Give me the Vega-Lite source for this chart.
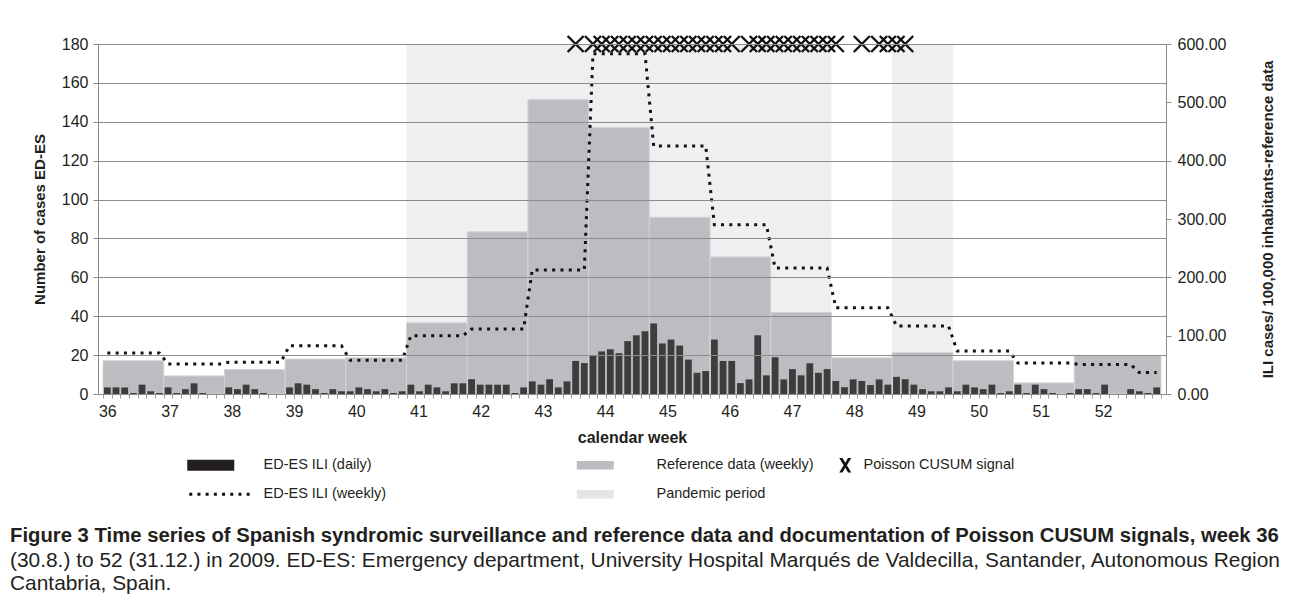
{
  "$schema": "https://vega.github.io/schema/vega-lite/v6.json",
  "width": 1068,
  "height": 350,
  "autosize": {"type": "none"},
  "padding": {"left": 98, "top": 44, "right": 126, "bottom": 210},
  "background": "white",
  "config": {
    "font": "Liberation Sans",
    "view": {"stroke": null},
    "axis": {"labelFont": "Liberation Sans", "titleFont": "Liberation Sans"},
    "legend": {"labelFont": "Liberation Sans"}
  },
  "title": {
    "text": "Figure 3 Time series of Spanish syndromic surveillance and reference data and documentation of Poisson CUSUM signals, week 36",
    "subtitle": ["(30.8.) to 52 (31.12.) in 2009. ED-ES: Emergency department, University Hospital Marqués de Valdecilla, Santander, Autonomous Region", "Cantabria, Spain."],
    "orient": "bottom",
    "anchor": "start",
    "frame": "group",
    "dx": -88,
    "offset": 25,
    "font": "Liberation Sans",
    "fontSize": 20.3,
    "fontWeight": "bold",
    "color": "#231f20",
    "subtitleFont": "Liberation Sans",
    "subtitleFontSize": 20.9,
    "subtitleColor": "#231f20",
    "subtitleLineHeight": 23,
    "subtitlePadding": 4
  },
  "datasets": {
    "daily": [
      {"day":0,"wk":36,"n":3.4},{"day":1,"wk":36,"n":3.4},{"day":2,"wk":36,"n":3.4},{"day":3,"wk":36,"n":0.5},{"day":4,"wk":36,"n":4.8},{"day":5,"wk":36,"n":1.4},{"day":6,"wk":36,"n":0.5},
      {"day":7,"wk":37,"n":3.4},{"day":8,"wk":37,"n":0.5},{"day":9,"wk":37,"n":2.5},{"day":10,"wk":37,"n":5.5},{"day":11,"wk":37,"n":0.5},{"day":12,"wk":37,"n":0},{"day":13,"wk":37,"n":0},
      {"day":14,"wk":38,"n":3.4},{"day":15,"wk":38,"n":2.5},{"day":16,"wk":38,"n":4.8},{"day":17,"wk":38,"n":2.5},{"day":18,"wk":38,"n":0.5},{"day":19,"wk":38,"n":0},{"day":20,"wk":38,"n":0},
      {"day":21,"wk":39,"n":3.4},{"day":22,"wk":39,"n":5.5},{"day":23,"wk":39,"n":4.8},{"day":24,"wk":39,"n":2.5},{"day":25,"wk":39,"n":0.5},{"day":26,"wk":39,"n":2.5},{"day":27,"wk":39,"n":1.4},
      {"day":28,"wk":40,"n":1.4},{"day":29,"wk":40,"n":3.4},{"day":30,"wk":40,"n":2.5},{"day":31,"wk":40,"n":1.4},{"day":32,"wk":40,"n":2.5},{"day":33,"wk":40,"n":0.5},{"day":34,"wk":40,"n":1.4},
      {"day":35,"wk":41,"n":4.8},{"day":36,"wk":41,"n":1.4},{"day":37,"wk":41,"n":4.8},{"day":38,"wk":41,"n":3.4},{"day":39,"wk":41,"n":1.4},{"day":40,"wk":41,"n":5.5},{"day":41,"wk":41,"n":5.5},
      {"day":42,"wk":42,"n":7.6},{"day":43,"wk":42,"n":4.8},{"day":44,"wk":42,"n":4.8},{"day":45,"wk":42,"n":4.8},{"day":46,"wk":42,"n":4.8},{"day":47,"wk":42,"n":0.5},{"day":48,"wk":42,"n":3.4},
      {"day":49,"wk":43,"n":6.5},{"day":50,"wk":43,"n":4.8},{"day":51,"wk":43,"n":7.6},{"day":52,"wk":43,"n":3.4},{"day":53,"wk":43,"n":6.5},{"day":54,"wk":43,"n":17},{"day":55,"wk":43,"n":15.9},
      {"day":56,"wk":44,"n":20},{"day":57,"wk":44,"n":21.9},{"day":58,"wk":44,"n":23},{"day":59,"wk":44,"n":21},{"day":60,"wk":44,"n":27.2},{"day":61,"wk":44,"n":30.2},{"day":62,"wk":44,"n":32.3},
      {"day":63,"wk":45,"n":36.3},{"day":64,"wk":45,"n":26},{"day":65,"wk":45,"n":28},{"day":66,"wk":45,"n":24.9},{"day":67,"wk":45,"n":17.7},{"day":68,"wk":45,"n":10.9},{"day":69,"wk":45,"n":11.8},
      {"day":70,"wk":46,"n":28},{"day":71,"wk":46,"n":17},{"day":72,"wk":46,"n":17},{"day":73,"wk":46,"n":5.6},{"day":74,"wk":46,"n":7.5},{"day":75,"wk":46,"n":30.2},{"day":76,"wk":46,"n":9.6},
      {"day":77,"wk":47,"n":18.9},{"day":78,"wk":47,"n":7.5},{"day":79,"wk":47,"n":12.8},{"day":80,"wk":47,"n":9.6},{"day":81,"wk":47,"n":15.8},{"day":82,"wk":47,"n":10.9},{"day":83,"wk":47,"n":12.8},
      {"day":84,"wk":48,"n":6.7},{"day":85,"wk":48,"n":3.5},{"day":86,"wk":48,"n":7.5},{"day":87,"wk":48,"n":6.7},{"day":88,"wk":48,"n":4.6},{"day":89,"wk":48,"n":7.5},{"day":90,"wk":48,"n":4.8},
      {"day":91,"wk":49,"n":8.8},{"day":92,"wk":49,"n":7.6},{"day":93,"wk":49,"n":4.8},{"day":94,"wk":49,"n":2.5},{"day":95,"wk":49,"n":1.4},{"day":96,"wk":49,"n":1.4},{"day":97,"wk":49,"n":3.4},
      {"day":98,"wk":50,"n":1.4},{"day":99,"wk":50,"n":4.8},{"day":100,"wk":50,"n":3.4},{"day":101,"wk":50,"n":2.5},{"day":102,"wk":50,"n":4.8},{"day":103,"wk":50,"n":0.5},{"day":104,"wk":50,"n":1.4},
      {"day":105,"wk":51,"n":4.8},{"day":106,"wk":51,"n":0.5},{"day":107,"wk":51,"n":4.8},{"day":108,"wk":51,"n":2.5},{"day":109,"wk":51,"n":0.5},{"day":110,"wk":51,"n":0},{"day":111,"wk":51,"n":0.5},
      {"day":112,"wk":52,"n":2.5},{"day":113,"wk":52,"n":2.5},{"day":114,"wk":52,"n":0.5},{"day":115,"wk":52,"n":4.8},{"day":116,"wk":52,"n":0},{"day":117,"wk":52,"n":0},{"day":118,"wk":52,"n":2.5},
      {"day":119,"wk":53,"n":1.4},{"day":120,"wk":53,"n":0.5},{"day":121,"wk":53,"n":3.4}
    ],
    "weeks": [
      {"wk":36,"start":-0.5,"end":6.5,"ref":57,"edes":21.1},
      {"wk":37,"start":6.5,"end":13.5,"ref":31,"edes":15.4},
      {"wk":38,"start":13.5,"end":20.5,"ref":42,"edes":16.3},
      {"wk":39,"start":20.5,"end":27.5,"ref":60,"edes":24.8},
      {"wk":40,"start":27.5,"end":34.5,"ref":62,"edes":17.3},
      {"wk":41,"start":34.5,"end":41.5,"ref":122,"edes":30},
      {"wk":42,"start":41.5,"end":48.5,"ref":278,"edes":33.4},
      {"wk":43,"start":48.5,"end":55.5,"ref":505,"edes":63.8},
      {"wk":44,"start":55.5,"end":62.5,"ref":457,"edes":175},
      {"wk":45,"start":62.5,"end":69.5,"ref":303,"edes":127.6},
      {"wk":46,"start":69.5,"end":76.5,"ref":235,"edes":87},
      {"wk":47,"start":76.5,"end":83.5,"ref":140,"edes":64.8},
      {"wk":48,"start":83.5,"end":90.5,"ref":62,"edes":44.4},
      {"wk":49,"start":90.5,"end":97.5,"ref":71,"edes":35},
      {"wk":50,"start":97.5,"end":104.5,"ref":57,"edes":22.1},
      {"wk":51,"start":104.5,"end":111.5,"ref":19,"edes":15.9},
      {"wk":52,"start":111.5,"end":121.5,"ref":66,"edes":15.2},
      {"wk":53,"start":118.5,"end":121.5,"ref":null,"edes":11}
    ],
    "pandemic": [{"start":34.5,"end":83.5},{"start":90.5,"end":97.5}],
    "signals": [
      {"day":54},{"day":56},{"day":57},{"day":58},{"day":59},{"day":60},{"day":61},{"day":62},{"day":63},{"day":64},{"day":65},{"day":66},{"day":67},{"day":68},{"day":69},{"day":70},{"day":71},{"day":72},
      {"day":74},{"day":75},{"day":76},{"day":77},{"day":78},{"day":79},{"day":80},{"day":81},{"day":82},{"day":83},{"day":84},
      {"day":87},{"day":89},{"day":90},{"day":91},{"day":92}
    ],
    "leg1": [{"item":"ED-ES ILI (daily)"},{"item":"ED-ES ILI (weekly)"}],
    "leg2": [{"item":"Reference  data (weekly)"},{"item":"Pandemic period"}],
    "leg3": [{"item":"Poisson CUSUM signal"}]
  },
  "layer": [
    {
      "data": {"name": "pandemic"},
      "mark": {"type": "rect", "fill": "#eeeff0"},
      "encoding": {
        "x": {
          "field": "start", "type": "quantitative",
          "scale": {"domain": [-0.5, 121.5], "nice": false, "zero": false},
          "axis": {
            "orient": "bottom",
            "title": "calendar week",
            "titleFontSize": 16, "titleFontWeight": "bold", "titleColor": "#231f20", "titlePadding": 10,
            "values": [0,7.1765,14.3529,21.5294,28.7059,35.8824,43.0588,50.2353,57.4118,64.5882,71.7647,78.9412,86.1176,93.2941,100.4706,107.6471,114.8235],
            "labelExpr": "format(round(datum.value / 7.17647) + 36, 'd')",
            "labelOverlap": false, "labelFlush": false, "labelBound": false,
            "labelFontSize": 16, "labelColor": "#231f20", "labelPadding": 9,
            "ticks": false, "domain": false, "grid": false
          }
        },
        "x2": {"field": "end"}
      }
    },
    {
      "data": {"name": "weeks"},
      "transform": [{"filter": "isValid(datum.ref)"}],
      "mark": {"type": "rect", "fill": "#bcbdc0", "stroke": "#d3d4d6", "strokeWidth": 1},
      "encoding": {
        "x": {
          "field": "start", "type": "quantitative",
          "axis": {
            "orient": "bottom", "title": null, "labels": false, "grid": false,
            "values": [-0.5,0.5,1.5,2.5,3.5,4.5,5.5,6.5,7.5,8.5,9.5,10.5,11.5,12.5,13.5,14.5,15.5,16.5,17.5,18.5,19.5,20.5,21.5,22.5,23.5,24.5,25.5,26.5,27.5,28.5,29.5,30.5,31.5,32.5,33.5,34.5,35.5,36.5,37.5,38.5,39.5,40.5,41.5,42.5,43.5,44.5,45.5,46.5,47.5,48.5,49.5,50.5,51.5,52.5,53.5,54.5,55.5,56.5,57.5,58.5,59.5,60.5,61.5,62.5,63.5,64.5,65.5,66.5,67.5,68.5,69.5,70.5,71.5,72.5,73.5,74.5,75.5,76.5,77.5,78.5,79.5,80.5,81.5,82.5,83.5,84.5,85.5,86.5,87.5,88.5,89.5,90.5,91.5,92.5,93.5,94.5,95.5,96.5,97.5,98.5,99.5,100.5,101.5,102.5,103.5,104.5,105.5,106.5,107.5,108.5,109.5,110.5,111.5,112.5,113.5,114.5,115.5,116.5,117.5,118.5,119.5,120.5,121.5],
            "tickSize": 4, "tickColor": "#9a9a9a", "domainColor": "#8a8a8a"
          }
        },
        "x2": {"field": "end"},
        "y": {
          "field": "ref", "type": "quantitative",
          "scale": {"domain": [0, 600], "nice": false},
          "axis": {
            "orient": "right", "title": "ILI cases/ 100,000 inhabitants-reference data",
            "values": [0,100,200,300,400,500,600], "format": ".2f",
            "grid": false, "labelFontSize": 16, "labelColor": "#231f20", "labelPadding": 6,
            "tickSize": 5, "tickColor": "#8a8a8a", "domainColor": "#8a8a8a",
            "titleFontSize": 15, "titleFontWeight": "bold", "titleColor": "#231f20",
            "titleAngle": 270, "titleBaseline": "top", "titlePadding": 35
          }
        },
        "y2": {"datum": 0}
      }
    },
    {
      "data": {"name": "daily"},
      "mark": {"type": "bar", "fill": "#3d3d3e", "width": 6.8},
      "encoding": {
        "x": {"field": "day", "type": "quantitative", "axis": null},
        "y": {
          "field": "n", "type": "quantitative",
          "scale": {"domain": [0, 180], "nice": false},
          "axis": {
            "orient": "left", "title": "Number of cases ED-ES",
            "values": [0,20,40,60,80,100,120,140,160,180],
            "grid": true, "gridColor": "#8c8c8c", "gridWidth": 1,
            "labelFontSize": 16, "labelColor": "#231f20", "labelPadding": 5,
            "tickSize": 5, "tickColor": "#8a8a8a", "domainColor": "#8a8a8a",
            "titleFontSize": 15, "titleFontWeight": "bold", "titleColor": "#231f20", "titlePadding": 14,
            "zindex": 1
          }
        }
      }
    },
    {
      "data": {"name": "daily"},
      "transform": [{"lookup": "wk", "from": {"data": {"name": "weeks"}, "key": "wk", "fields": ["edes"]}}],
      "mark": {"type": "line", "stroke": "#111111", "strokeWidth": 3, "strokeDash": [3, 5.3]},
      "encoding": {
        "x": {"field": "day", "type": "quantitative", "axis": null},
        "y": {"field": "edes", "type": "quantitative", "scale": {"domain": [0, 180], "nice": false}, "axis": null}
      }
    },
    {
      "data": {"name": "signals"},
      "mark": {"type": "point", "shape": "M-1,-1L1,1M1,-1L-1,1", "size": 256, "filled": false, "stroke": "#111111", "strokeWidth": 2.4, "opacity": 1},
      "encoding": {
        "x": {"field": "day", "type": "quantitative", "axis": null},
        "y": {"datum": 180, "type": "quantitative", "scale": {"domain": [0, 180], "nice": false}, "axis": null}
      }
    },
    {
      "data": {"name": "leg1"},
      "transform": [{"filter": "false"}],
      "mark": {"type": "point", "filled": true, "opacity": 1},
      "encoding": {
        "color": {
          "field": "item", "type": "nominal",
          "scale": {"domain": ["ED-ES ILI (daily)", "ED-ES ILI (weekly)"], "range": ["#231f20", "#111111"]},
          "legend": {"title": null, "orient": "none", "legendX": 114, "legendY": 414, "direction": "vertical", "symbolSize": 100, "symbolOpacity": 1, "symbolStrokeWidth": 0, "labelOffset": 37, "labelFontSize": 14.5, "labelColor": "#231f20", "labelLimit": 400, "rowPadding": 14, "padding": 0}
        },
        "shape": {
          "field": "item", "type": "nominal",
          "scale": {"domain": ["ED-ES ILI (daily)", "ED-ES ILI (weekly)"], "range": ["M-6.4,-1.1H3V1.1H-6.4Z", "M-6,-0.3h0.6v0.6h-0.6zM-4.36,-0.3h0.6v0.6h-0.6zM-2.72,-0.3h0.6v0.6h-0.6zM-1.08,-0.3h0.6v0.6h-0.6zM0.56,-0.3h0.6v0.6h-0.6zM2.2,-0.3h0.6v0.6h-0.6zM3.84,-0.3h0.6v0.6h-0.6zM5.48,-0.3h0.6v0.6h-0.6z"]}
        }
      }
    },
    {
      "data": {"name": "leg2"},
      "transform": [{"filter": "false"}],
      "mark": {"type": "point", "filled": true, "opacity": 1},
      "encoding": {
        "color": {
          "field": "item", "type": "nominal",
          "scale": {"domain": ["Reference  data (weekly)", "Pandemic period"], "range": ["#bcbdc0", "#e4e5e6"]},
          "legend": {"title": null, "orient": "none", "legendX": 490, "legendY": 414, "direction": "vertical", "symbolSize": 100, "symbolOpacity": 1, "symbolStrokeWidth": 0, "labelOffset": 54, "labelFontSize": 14.5, "labelColor": "#231f20", "labelLimit": 400, "rowPadding": 14, "padding": 0}
        },
        "shape": {
          "field": "item", "type": "nominal",
          "scale": {"domain": ["Reference  data (weekly)", "Pandemic period"], "range": ["M-3.7,-0.85H3.7V0.85H-3.7Z", "M-3.7,-0.85H3.7V0.85H-3.7Z"]}
        }
      }
    },
    {
      "data": {"name": "leg3"},
      "transform": [{"filter": "false"}],
      "mark": {"type": "point", "filled": true, "opacity": 1},
      "encoding": {
        "color": {
          "field": "item", "type": "nominal",
          "scale": {"domain": ["Poisson CUSUM signal"], "range": ["#111111"]},
          "legend": {"title": null, "orient": "none", "legendX": 740, "legendY": 414, "direction": "vertical", "symbolSize": 100, "symbolOpacity": 1, "symbolStrokeWidth": 0, "labelOffset": 11, "labelFontSize": 14.5, "labelColor": "#231f20", "labelLimit": 400, "padding": 0}
        },
        "shape": {
          "field": "item", "type": "nominal",
          "scale": {"domain": ["Poisson CUSUM signal"], "range": ["M-1.2,-1.45L-0.55,-1.45L0,-0.5L0.55,-1.45L1.2,-1.45L0.33,0L1.2,1.45L0.55,1.45L0,0.5L-0.55,1.45L-1.2,1.45L-0.33,0Z"]}
        }
      }
    }
  ],
  "resolve": {"scale": {"y": "independent", "color": "independent", "shape": "independent"}, "axis": {"x": "independent"}}
}
